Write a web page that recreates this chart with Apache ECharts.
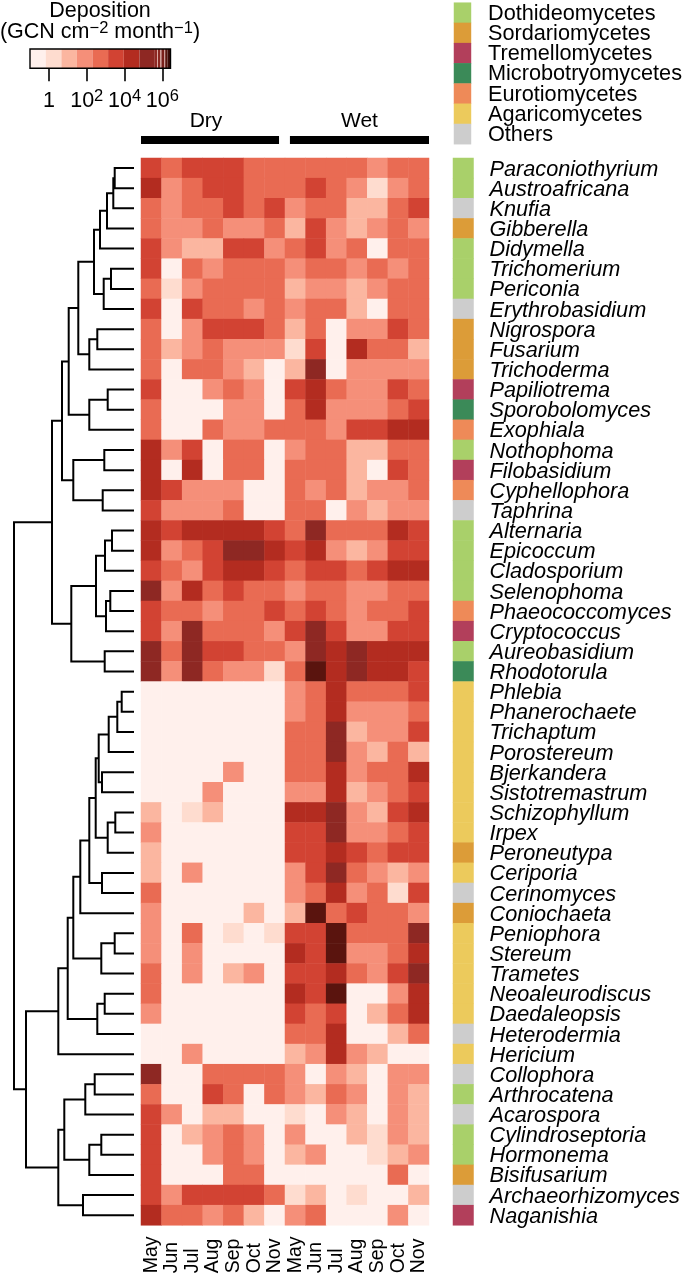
<!DOCTYPE html>
<html><head><meta charset="utf-8">
<style>html,body{margin:0;padding:0;background:#fff}#c{width:685px;height:1277px}</style>
<script src="https://cdn.jsdelivr.net/npm/echarts@6/dist/echarts.min.js"></script>
</head><body><div id="c"></div>
<script>
const months = ['May','Jun','Jul','Aug','Sep','Oct','Nov','May','Jun','Jul','Aug','Sep','Oct','Nov'];
const seasons = [{name:'Dry',from:0,to:6.71},{name:'Wet',from:7.24,to:14}];
const genera = ['Paraconiothyrium','Austroafricana','Knufia','Gibberella','Didymella','Trichomerium','Periconia','Erythrobasidium','Nigrospora','Fusarium','Trichoderma','Papiliotrema','Sporobolomyces','Exophiala','Nothophoma','Filobasidium','Cyphellophora','Taphrina','Alternaria','Epicoccum','Cladosporium','Selenophoma','Phaeococcomyces','Cryptococcus','Aureobasidium','Rhodotorula','Phlebia','Phanerochaete','Trichaptum','Porostereum','Bjerkandera','Sistotremastrum','Schizophyllum','Irpex','Peroneutypa','Ceriporia','Cerinomyces','Coniochaeta','Peniophora','Stereum','Trametes','Neoaleurodiscus','Daedaleopsis','Heterodermia','Hericium','Collophora','Arthrocatena','Acarospora','Cylindroseptoria','Hormonema','Bisifusarium','Archaeorhizomyces','Naganishia'];
const classNames = ['Dothideomycetes','Sordariomycetes','Tremellomycetes','Microbotryomycetes','Eurotiomycetes','Agaricomycetes','Others'];
const classColors = ['#a9d06a','#dc9c38','#b23f5b','#3b8a58','#ee8a58','#ecca5c','#cdcdcd'];
// class index of each genus, same order as genera
const generaClass = [0,0,6,1,0,0,0,6,1,1,1,2,3,4,0,2,4,6,0,0,0,0,4,2,0,3,5,5,5,5,5,5,5,5,1,5,6,1,5,5,5,5,5,6,5,6,0,6,0,0,1,6,2];
// colour step read from each cell (rows = genera, columns = months)
const steps = [
[5,4,5,5,5,4,4,4,4,4,4,3,4,4],
[6,3,4,5,5,4,4,4,5,4,3,1,3,4],
[4,3,4,4,5,4,5,3,4,4,2,2,4,5],
[4,3,3,4,3,3,4,2,5,3,2,3,4,3],
[5,3,2,2,5,5,3,4,5,3,4,0,4,4],
[5,0,4,3,4,4,4,3,4,4,3,4,3,4],
[4,1,3,4,4,4,4,2,3,3,2,3,4,4],
[5,0,5,4,4,3,4,3,4,4,2,0,4,4],
[4,0,3,5,5,5,4,2,4,0,3,3,5,4],
[4,2,3,4,3,3,3,1,5,0,6,4,4,2],
[4,0,4,4,3,2,0,2,7,0,3,3,3,3],
[5,0,0,3,4,3,0,5,6,4,3,3,5,4],
[4,0,0,0,3,3,0,4,6,3,3,3,4,5],
[4,0,0,4,3,3,4,4,4,3,5,5,6,6],
[6,3,5,0,4,4,0,3,4,4,2,2,4,4],
[6,0,6,0,4,4,0,4,4,4,2,0,5,4],
[6,5,3,3,3,0,0,4,3,4,2,3,3,4],
[5,3,3,3,4,0,0,4,4,0,3,2,3,3],
[6,5,6,6,6,6,5,4,7,4,4,4,6,5],
[6,3,4,5,7,7,6,5,6,3,2,3,5,5],
[5,4,3,5,6,6,5,4,5,5,4,5,6,6],
[7,3,6,4,5,4,4,3,4,4,3,3,4,4],
[5,4,4,3,4,4,5,4,5,4,3,4,4,5],
[5,3,7,4,4,4,3,5,7,5,3,3,5,5],
[7,4,7,5,5,4,4,3,7,6,7,6,6,6],
[7,3,7,4,3,3,1,4,8,6,7,6,6,5],
[0,0,0,0,0,0,0,3,4,6,4,4,4,5],
[0,0,0,0,0,0,0,3,4,6,3,3,3,4],
[0,0,0,0,0,0,0,4,4,7,2,3,3,5],
[0,0,0,0,0,0,0,4,4,7,3,2,4,2],
[0,0,0,0,3,0,0,4,4,6,3,4,4,6],
[0,0,0,3,0,0,0,3,3,6,2,3,4,5],
[2,0,1,2,0,0,0,6,6,7,3,2,5,6],
[3,0,0,0,0,0,0,5,5,7,3,3,4,5],
[2,0,0,0,0,0,0,5,5,6,5,4,5,5],
[2,0,3,0,0,0,0,3,5,7,4,3,2,3],
[4,0,0,0,0,0,0,3,4,6,3,4,1,5],
[3,0,0,0,0,2,0,2,8,4,5,4,4,3],
[3,0,4,0,1,0,1,5,5,8,4,4,4,7],
[3,0,3,0,0,0,0,6,5,8,3,3,4,6],
[4,0,3,0,2,3,0,5,5,6,4,3,5,7],
[4,0,0,0,0,0,0,6,5,8,0,0,3,6],
[3,0,0,0,0,0,0,5,4,5,0,2,4,6],
[0,0,0,0,0,0,0,4,4,6,0,0,2,4],
[0,0,3,0,0,0,0,2,3,6,3,2,0,0],
[7,0,0,4,4,4,4,3,0,3,2,0,3,3],
[4,0,0,5,4,0,4,3,2,4,3,0,3,2],
[5,3,0,2,2,0,0,1,0,3,2,0,3,2],
[5,0,2,3,4,3,0,3,0,0,2,1,3,2],
[5,0,0,3,4,3,0,2,3,0,0,1,2,3],
[5,0,0,0,4,4,0,0,0,0,0,0,4,0],
[5,3,5,5,5,5,4,1,2,0,1,0,0,2],
[6,4,4,3,4,2,0,3,4,0,0,0,3,0]
];
const stepColors = ['#fff0ec','#fedccf','#fbb6a0','#f58f79','#e96b53','#d24333','#b32c20','#8e2823','#5a140e'];
// log10 deposition: edges of the colour steps on the colour bar
const stepEdges = [-1,-0.17,0.66,1.48,2.3,3.13,3.96,4.79,5.6,6.43];
const tickValues = [0,2,4,6];
const tickLabels = ['{n|1}','{n|10}{s|2}','{n|10}{s|4}','{n|10}{s|6}'];
// dendrogram merges: [childA, childB, height]; child >= 0 is a row, child < 0 is merge number -child
const merges = [
[0,1,19.3],[-1,2,20.7],[-2,3,27],[-3,4,34],[5,6,23],[-5,7,30.3],[-4,-6,40],[8,9,36.7],[-8,10,44.7],[-7,-9,55.7],
[11,12,26.3],[-11,13,44.7],[-10,-12,65.3],[14,15,29.7],[16,17,31.3],[-14,-15,60.7],[-13,-16,72],[18,19,22],[-18,20,29],[21,22,23.7],
[-20,23,28],[-19,-21,38],[24,25,29.3],[-22,-23,62.7],[-17,-24,82],[26,27,12.3],[-26,28,16.7],[-27,29,25.3],[30,31,32],[-28,-29,35.3],
[32,33,18.7],[-31,34,26.3],[-30,-32,38.3],[35,36,32],[-33,-34,44.7],[-35,37,53.7],[38,39,19.3],[-37,40,32.7],[-36,-38,60.7],[41,42,29.3],
[-40,43,36.7],[-39,-41,66.3],[-42,44,75.7],[45,46,39.3],[-44,47,48.7],[48,49,32.7],[-46,50,44.7],[-45,-47,69.7],[51,52,51],[-48,-49,75.7],
[-43,-50,108],[-25,-51,120]
];

const FONT = '"Liberation Sans", Arial, sans-serif';
const heatData = [];
steps.forEach((r,y)=>r.forEach((s,x)=>heatData.push([x,y,(stepEdges[s]+stepEdges[s+1])/2])));
const pos = [], hgt = [];
const childPos = c => c>=0 ? c+0.5 : pos[-c-1];
const childH = c => c>=0 ? 0 : hgt[-c-1];
const dendData = merges.map((m,i)=>{
  const ya=childPos(m[0]), yb=childPos(m[1]), ha=childH(m[0]), hb=childH(m[1]);
  pos[i]=(ya+yb)/2; hgt[i]=m[2];
  return [ha,ya,m[2],hb,yb];
});
const barBins = stepColors.slice(0,8).map((c,i)=>[stepEdges[i],stepEdges[i+1],c]);
// the narrow stripes at the top end of the colour bar
const barStripes = [[5.6,5.72,'#8e2823'],[5.72,5.77,'#d9a49c'],[5.77,5.9,'#8a2620'],[5.9,5.95,'#d9a49c'],[5.95,6.1,'#7a1f1a'],[6.1,6.15,'#c99089'],[6.15,6.27,'#5a140e'],[6.27,6.43,'#3d0c08']];
const barAll = barBins.concat(barStripes);

const hiddenCat = (data,extra)=>Object.assign({type:'category',data,axisLine:{show:false},axisTick:{show:false},axisLabel:{show:false},splitLine:{show:false}},extra||{});
const hiddenVal = (min,max,extra)=>Object.assign({type:'value',min,max,show:false,splitLine:{show:false}},extra||{});
const T=158,H=1067.3;
const supRich = {
  n:{fontSize:21.5,fontFamily:FONT,color:'#000',lineHeight:25},
  s:{fontSize:16.5,fontFamily:FONT,color:'#000',verticalAlign:'top',lineHeight:16}
};

const option = {
  animation:false, backgroundColor:'#fff',
  textStyle:{fontFamily:FONT,color:'#000'},
  title:[
    {text:'Deposition',left:100,top:0,padding:0,textAlign:'center',textStyle:{fontFamily:FONT,fontWeight:'normal',fontSize:21.5,color:'#000'}},
    {text:'{n|(GCN cm}{s|−2}{n| month}{s|−1}{n|)}',left:100,top:20,padding:0,textAlign:'center',textStyle:{fontFamily:FONT,fontWeight:'normal',fontSize:21.5,color:'#000',rich:supRich}}
  ],
  grid:[
    {left:141,top:T,width:288,height:H},      // 0 heat
    {left:453,top:T,width:20.5,height:H},     // 1 class strip
    {left:0,top:T,width:134,height:H},        // 2 dendrogram
    {left:454,top:2.7,width:20.5,height:141.5},// 3 legend
    {left:30,top:49,width:140.5,height:19.3}, // 4 colour bar
    {left:141,top:136,width:288,height:8}     // 5 season bars
  ],
  xAxis:[
    {gridIndex:0,type:'category',data:months,position:'bottom',axisLine:{show:false},axisTick:{show:false},
     axisLabel:{interval:0,rotate:90,align:'left',verticalAlign:'middle',margin:48,fontSize:19.5,fontFamily:FONT,color:'#000'}},
    hiddenCat(['class'],{gridIndex:1}),
    hiddenVal(0,134,{gridIndex:2,inverse:true}),
    hiddenCat(['class'],{gridIndex:3}),
    {gridIndex:4,type:'value',min:-1,max:6.43,axisLine:{show:false},splitLine:{show:false},
     axisTick:{show:true,length:13,customValues:tickValues,lineStyle:{color:'#000',width:1.6}},
     axisLabel:{show:true,customValues:tickValues,margin:20,fontSize:21.5,fontFamily:FONT,color:'#000',rich:supRich,
       formatter:v=>tickLabels[tickValues.indexOf(v)]}},
    hiddenVal(0,14,{gridIndex:5})
  ],
  yAxis:[
    hiddenCat(genera,{gridIndex:0,inverse:true}),
    {gridIndex:1,type:'category',data:genera,inverse:true,position:'right',axisLine:{show:false},axisTick:{show:false},
     axisLabel:{interval:0,margin:16,fontFamily:FONT,color:'#000',formatter:v=>'{a|'+v+'}',
       rich:{a:{fontSize:21.7,fontStyle:'italic',fontFamily:FONT,color:'#000',padding:[3,0,0,0]}}}},
    hiddenVal(0,53,{gridIndex:2,inverse:true}),
    {gridIndex:3,type:'category',data:classNames,inverse:true,position:'right',axisLine:{show:false},axisTick:{show:false},
     axisLabel:{interval:0,margin:17,fontFamily:FONT,color:'#000',formatter:v=>'{a|'+v+'}',
       rich:{a:{fontSize:21.7,fontFamily:FONT,color:'#000',padding:[2,0,0,0]}}}},
    hiddenVal(0,1,{gridIndex:4}),
    hiddenVal(0,1,{gridIndex:5})
  ],
  visualMap:[
    {show:false,type:'piecewise',seriesIndex:0,dimension:2,
     pieces:stepColors.map((c,i)=>({gte:stepEdges[i],lt:stepEdges[i+1],color:c}))},
    {show:false,type:'piecewise',seriesIndex:[1,2],dimension:2,
     pieces:classColors.map((c,i)=>({value:i,color:c}))}
  ],
  series:[
    {type:'heatmap',xAxisIndex:0,yAxisIndex:0,data:heatData,progressive:0},
    {type:'heatmap',xAxisIndex:1,yAxisIndex:1,data:generaClass.map((c,i)=>[0,i,c]),progressive:0},
    {type:'heatmap',xAxisIndex:3,yAxisIndex:3,data:classNames.map((n,i)=>[0,i,i]),progressive:0},
    {type:'custom',xAxisIndex:2,yAxisIndex:2,data:dendData,silent:true,
     encode:{x:[0,2,3],y:[1,4]},
     renderItem:(p,api)=>{
       const a=api.coord([api.value(0),api.value(1)]),b=api.coord([api.value(2),api.value(1)]),
             c=api.coord([api.value(2),api.value(4)]),d=api.coord([api.value(3),api.value(4)]);
       return {type:'polyline',shape:{points:[a,b,c,d]},style:{fill:null,stroke:'#000',lineWidth:2}};
     }},
    {type:'custom',xAxisIndex:4,yAxisIndex:4,data:barAll.map(b=>[b[0],b[1]]),silent:true,clip:false,
     encode:{x:[0,1]},
     renderItem:(p,api)=>{
       const a=api.coord([api.value(0),1]),b=api.coord([api.value(1),0]);
       return {type:'rect',shape:{x:a[0],y:a[1],width:b[0]-a[0],height:b[1]-a[1]},style:{fill:barAll[p.dataIndex][2]}};
     }},
    {type:'custom',xAxisIndex:4,yAxisIndex:4,data:[[-1,6.43]],silent:true,clip:false,z:5,
     encode:{x:[0,1]},
     renderItem:(p,api)=>{
       const a=api.coord([api.value(0),1]),b=api.coord([api.value(1),0]);
       return {type:'rect',shape:{x:a[0],y:a[1],width:b[0]-a[0],height:b[1]-a[1]},style:{fill:null,stroke:'#000',lineWidth:1.4}};
     }},
    {type:'custom',xAxisIndex:5,yAxisIndex:5,data:seasons.map(s=>[s.from,s.to]),silent:true,clip:false,
     encode:{x:[0,1]},
     renderItem:(p,api)=>{
       const a=api.coord([api.value(0),1]),b=api.coord([api.value(1),0]);
       return {type:'group',children:[
         {type:'rect',shape:{x:a[0],y:a[1],width:b[0]-a[0],height:b[1]-a[1]},style:{fill:'#000'}},
         {type:'text',style:{x:(a[0]+b[0])/2-(p.dataIndex===0?4:0),y:a[1]-4,text:seasons[p.dataIndex].name,textAlign:'center',textVerticalAlign:'bottom',fontSize:21,fontFamily:FONT,fill:'#000'}}
       ]};
     }}
  ]
};
echarts.init(document.getElementById('c'),null,{renderer:'canvas'}).setOption(option);
</script></body></html>
